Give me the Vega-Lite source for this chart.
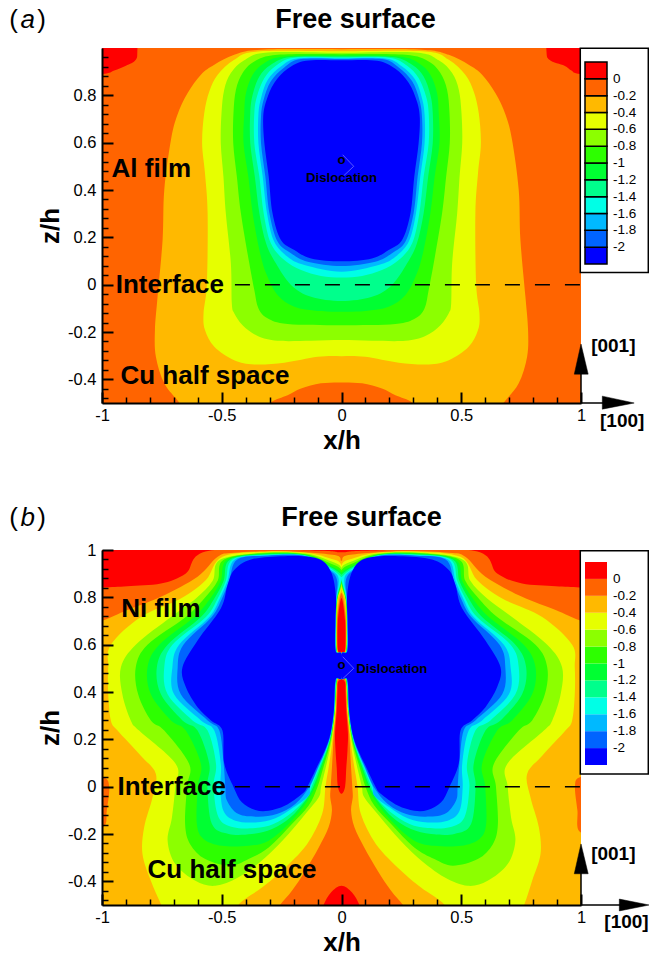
{"$schema":"https://vega.github.io/schema/vega-lite/v6.json","padding":{"left":9,"top":5,"right":0,"bottom":0},"spacing":49,"config":{"font":"Liberation Sans","view":{"stroke":null},"axis":{"grid":false,"domainColor":"black","tickColor":"black","labelColor":"black","labelFlush":false}},
"resolve":{"scale":{"fill":"independent"},"legend":{"fill":"independent"}},
"datasets":{"a":[
{"v":-0.1,"x":-2,"z":-2},{"v":-0.1,"x":2,"z":-2},{"v":-0.1,"x":2,"z":2},{"v":-0.1,"x":-2,"z":2},
{"v":0.1,"x":-1.2,"z":1.2},{"v":0.1,"x":-0.85,"z":1.2},{"v":0.1,"x":-0.852,"z":1.0},{"v":0.1,"x":-0.859,"z":0.95},{"v":0.1,"x":-0.9,"z":0.925},{"v":0.1,"x":-0.949,"z":0.905},{"v":0.1,"x":-1.0,"z":0.89},{"v":0.1,"x":-1.2,"z":0.88},
{"v":0.11,"x":1.2,"z":1.2},{"v":0.11,"x":0.85,"z":1.2},{"v":0.11,"x":0.855,"z":1.0},{"v":0.11,"x":0.868,"z":0.95},{"v":0.11,"x":0.931,"z":0.925},{"v":0.11,"x":0.96,"z":0.905},{"v":0.11,"x":1.0,"z":0.89},{"v":0.11,"x":1.2,"z":0.88},
{"v":-0.3,"x":0,"z":0.995},{"v":-0.3,"x":-0.336,"z":0.993},{"v":-0.3,"x":-0.448,"z":0.971},{"v":-0.3,"x":-0.531,"z":0.929},{"v":-0.3,"x":-0.587,"z":0.887},{"v":-0.3,"x":-0.643,"z":0.809},{"v":-0.3,"x":-0.685,"z":0.718},{"v":-0.3,"x":-0.712,"z":0.612},{"v":-0.3,"x":-0.74,"z":0.4},{"v":-0.3,"x":-0.747,"z":0.189},{"v":-0.3,"x":-0.768,"z":-0.051},{"v":-0.3,"x":-0.779,"z":-0.192},{"v":-0.3,"x":-0.775,"z":-0.305},{"v":-0.3,"x":-0.74,"z":-0.417},{"v":-0.3,"x":-0.678,"z":-0.498},{"v":-0.3,"x":-0.64,"z":-0.56},{"v":-0.3,"x":-0.33,"z":-0.56},{"v":-0.3,"x":-0.295,"z":-0.498},{"v":-0.3,"x":-0.225,"z":-0.467},{"v":-0.3,"x":-0.169,"z":-0.439},{"v":-0.3,"x":-0.086,"z":-0.417},{"v":-0.3,"x":0,"z":-0.413},{"v":-0.3,"x":0.086,"z":-0.417},{"v":-0.3,"x":0.169,"z":-0.439},{"v":-0.3,"x":0.225,"z":-0.467},{"v":-0.3,"x":0.295,"z":-0.498},{"v":-0.3,"x":0.33,"z":-0.56},{"v":-0.3,"x":0.64,"z":-0.56},{"v":-0.3,"x":0.678,"z":-0.498},{"v":-0.3,"x":0.74,"z":-0.417},{"v":-0.3,"x":0.775,"z":-0.305},{"v":-0.3,"x":0.779,"z":-0.192},{"v":-0.3,"x":0.768,"z":-0.051},{"v":-0.3,"x":0.747,"z":0.189},{"v":-0.3,"x":0.74,"z":0.4},{"v":-0.3,"x":0.712,"z":0.612},{"v":-0.3,"x":0.685,"z":0.718},{"v":-0.3,"x":0.643,"z":0.809},{"v":-0.3,"x":0.587,"z":0.887},{"v":-0.3,"x":0.531,"z":0.929},{"v":-0.3,"x":0.448,"z":0.971},{"v":-0.3,"x":0.336,"z":0.993},
{"v":-0.5,"x":0,"z":0.986},{"v":-0.5,"x":-0.35,"z":0.985},{"v":-0.5,"x":-0.448,"z":0.95},{"v":-0.5,"x":-0.517,"z":0.887},{"v":-0.5,"x":-0.552,"z":0.816},{"v":-0.5,"x":-0.573,"z":0.725},{"v":-0.5,"x":-0.582,"z":0.598},{"v":-0.5,"x":-0.57,"z":0.471},{"v":-0.5,"x":-0.559,"z":0.302},{"v":-0.5,"x":-0.562,"z":0.006},{"v":-0.5,"x":-0.576,"z":-0.121},{"v":-0.5,"x":-0.57,"z":-0.192},{"v":-0.5,"x":-0.531,"z":-0.262},{"v":-0.5,"x":-0.448,"z":-0.319},{"v":-0.5,"x":-0.364,"z":-0.337},{"v":-0.5,"x":-0.239,"z":-0.33},{"v":-0.5,"x":-0.1,"z":-0.305},{"v":-0.5,"x":0,"z":-0.302},{"v":-0.5,"x":0.1,"z":-0.305},{"v":-0.5,"x":0.239,"z":-0.33},{"v":-0.5,"x":0.364,"z":-0.337},{"v":-0.5,"x":0.448,"z":-0.319},{"v":-0.5,"x":0.531,"z":-0.262},{"v":-0.5,"x":0.57,"z":-0.192},{"v":-0.5,"x":0.576,"z":-0.121},{"v":-0.5,"x":0.562,"z":0.006},{"v":-0.5,"x":0.559,"z":0.302},{"v":-0.5,"x":0.57,"z":0.471},{"v":-0.5,"x":0.582,"z":0.598},{"v":-0.5,"x":0.573,"z":0.725},{"v":-0.5,"x":0.552,"z":0.816},{"v":-0.5,"x":0.517,"z":0.887},{"v":-0.5,"x":0.448,"z":0.95},{"v":-0.5,"x":0.35,"z":0.985},
{"v":-0.7,"x":0,"z":0.98},{"v":-0.7,"x":-0.309,"z":0.981},{"v":-0.7,"x":-0.406,"z":0.948},{"v":-0.7,"x":-0.462,"z":0.894},{"v":-0.7,"x":-0.49,"z":0.823},{"v":-0.7,"x":-0.501,"z":0.725},{"v":-0.7,"x":-0.504,"z":0.598},{"v":-0.7,"x":-0.493,"z":0.457},{"v":-0.7,"x":-0.483,"z":0.302},{"v":-0.7,"x":-0.462,"z":0.09},{"v":-0.7,"x":-0.458,"z":-0.079},{"v":-0.7,"x":-0.448,"z":-0.121},{"v":-0.7,"x":-0.413,"z":-0.171},{"v":-0.7,"x":-0.35,"z":-0.217},{"v":-0.7,"x":-0.267,"z":-0.237},{"v":-0.7,"x":-0.127,"z":-0.237},{"v":-0.7,"x":0,"z":-0.234},{"v":-0.7,"x":0.127,"z":-0.237},{"v":-0.7,"x":0.267,"z":-0.237},{"v":-0.7,"x":0.35,"z":-0.217},{"v":-0.7,"x":0.413,"z":-0.171},{"v":-0.7,"x":0.448,"z":-0.121},{"v":-0.7,"x":0.458,"z":-0.079},{"v":-0.7,"x":0.462,"z":0.09},{"v":-0.7,"x":0.483,"z":0.302},{"v":-0.7,"x":0.493,"z":0.457},{"v":-0.7,"x":0.504,"z":0.598},{"v":-0.7,"x":0.501,"z":0.725},{"v":-0.7,"x":0.49,"z":0.823},{"v":-0.7,"x":0.462,"z":0.894},{"v":-0.7,"x":0.406,"z":0.948},{"v":-0.7,"x":0.309,"z":0.981},
{"v":-0.9,"x":0,"z":0.974},{"v":-0.9,"x":-0.267,"z":0.971},{"v":-0.9,"x":-0.364,"z":0.943},{"v":-0.9,"x":-0.413,"z":0.894},{"v":-0.9,"x":-0.441,"z":0.823},{"v":-0.9,"x":-0.451,"z":0.725},{"v":-0.9,"x":-0.452,"z":0.598},{"v":-0.9,"x":-0.437,"z":0.457},{"v":-0.9,"x":-0.42,"z":0.302},{"v":-0.9,"x":-0.385,"z":0.09},{"v":-0.9,"x":-0.364,"z":-0.023},{"v":-0.9,"x":-0.347,"z":-0.1},{"v":-0.9,"x":-0.309,"z":-0.142},{"v":-0.9,"x":-0.225,"z":-0.166},{"v":-0.9,"x":0,"z":-0.171},{"v":-0.9,"x":0.225,"z":-0.166},{"v":-0.9,"x":0.309,"z":-0.142},{"v":-0.9,"x":0.347,"z":-0.1},{"v":-0.9,"x":0.364,"z":-0.023},{"v":-0.9,"x":0.385,"z":0.09},{"v":-0.9,"x":0.42,"z":0.302},{"v":-0.9,"x":0.437,"z":0.457},{"v":-0.9,"x":0.452,"z":0.598},{"v":-0.9,"x":0.451,"z":0.725},{"v":-0.9,"x":0.441,"z":0.823},{"v":-0.9,"x":0.413,"z":0.894},{"v":-0.9,"x":0.364,"z":0.943},{"v":-0.9,"x":0.267,"z":0.971},
{"v":-1.1,"x":0,"z":0.968},{"v":-1.1,"x":-0.239,"z":0.964},{"v":-1.1,"x":-0.323,"z":0.936},{"v":-1.1,"x":-0.371,"z":0.887},{"v":-1.1,"x":-0.399,"z":0.809},{"v":-1.1,"x":-0.406,"z":0.725},{"v":-1.1,"x":-0.409,"z":0.598},{"v":-1.1,"x":-0.389,"z":0.457},{"v":-1.1,"x":-0.371,"z":0.302},{"v":-1.1,"x":-0.343,"z":0.147},{"v":-1.1,"x":-0.315,"z":0.048},{"v":-1.1,"x":-0.267,"z":-0.044},{"v":-1.1,"x":-0.197,"z":-0.093},{"v":-1.1,"x":-0.1,"z":-0.111},{"v":-1.1,"x":0,"z":-0.114},{"v":-1.1,"x":0.1,"z":-0.111},{"v":-1.1,"x":0.197,"z":-0.093},{"v":-1.1,"x":0.267,"z":-0.044},{"v":-1.1,"x":0.315,"z":0.048},{"v":-1.1,"x":0.343,"z":0.147},{"v":-1.1,"x":0.371,"z":0.302},{"v":-1.1,"x":0.389,"z":0.457},{"v":-1.1,"x":0.409,"z":0.598},{"v":-1.1,"x":0.406,"z":0.725},{"v":-1.1,"x":0.399,"z":0.809},{"v":-1.1,"x":0.371,"z":0.887},{"v":-1.1,"x":0.323,"z":0.936},{"v":-1.1,"x":0.239,"z":0.964},
{"v":-1.3,"x":0,"z":0.964},{"v":-1.3,"x":-0.211,"z":0.962},{"v":-1.3,"x":-0.295,"z":0.929},{"v":-1.3,"x":-0.343,"z":0.88},{"v":-1.3,"x":-0.371,"z":0.802},{"v":-1.3,"x":-0.381,"z":0.725},{"v":-1.3,"x":-0.381,"z":0.598},{"v":-1.3,"x":-0.362,"z":0.457},{"v":-1.3,"x":-0.343,"z":0.302},{"v":-1.3,"x":-0.315,"z":0.175},{"v":-1.3,"x":-0.274,"z":0.09},{"v":-1.3,"x":-0.211,"z":-0.001},{"v":-1.3,"x":-0.127,"z":-0.051},{"v":-1.3,"x":0,"z":-0.069},{"v":-1.3,"x":0.127,"z":-0.051},{"v":-1.3,"x":0.211,"z":-0.001},{"v":-1.3,"x":0.274,"z":0.09},{"v":-1.3,"x":0.315,"z":0.175},{"v":-1.3,"x":0.343,"z":0.302},{"v":-1.3,"x":0.362,"z":0.457},{"v":-1.3,"x":0.381,"z":0.598},{"v":-1.3,"x":0.381,"z":0.725},{"v":-1.3,"x":0.371,"z":0.802},{"v":-1.3,"x":0.343,"z":0.88},{"v":-1.3,"x":0.295,"z":0.929},{"v":-1.3,"x":0.211,"z":0.962},
{"v":-1.5,"x":0,"z":0.96},{"v":-1.5,"x":-0.197,"z":0.959},{"v":-1.5,"x":-0.274,"z":0.925},{"v":-1.5,"x":-0.322,"z":0.873},{"v":-1.5,"x":-0.353,"z":0.795},{"v":-1.5,"x":-0.364,"z":0.725},{"v":-1.5,"x":-0.364,"z":0.598},{"v":-1.5,"x":-0.343,"z":0.457},{"v":-1.5,"x":-0.325,"z":0.302},{"v":-1.5,"x":-0.295,"z":0.175},{"v":-1.5,"x":-0.239,"z":0.104},{"v":-1.5,"x":-0.169,"z":0.062},{"v":-1.5,"x":-0.086,"z":0.037},{"v":-1.5,"x":0,"z":0.03},{"v":-1.5,"x":0.086,"z":0.037},{"v":-1.5,"x":0.169,"z":0.062},{"v":-1.5,"x":0.239,"z":0.104},{"v":-1.5,"x":0.295,"z":0.175},{"v":-1.5,"x":0.325,"z":0.302},{"v":-1.5,"x":0.343,"z":0.457},{"v":-1.5,"x":0.364,"z":0.598},{"v":-1.5,"x":0.364,"z":0.725},{"v":-1.5,"x":0.353,"z":0.795},{"v":-1.5,"x":0.322,"z":0.873},{"v":-1.5,"x":0.274,"z":0.925},{"v":-1.5,"x":0.197,"z":0.959},
{"v":-1.7,"x":0,"z":0.957},{"v":-1.7,"x":-0.183,"z":0.956},{"v":-1.7,"x":-0.253,"z":0.922},{"v":-1.7,"x":-0.308,"z":0.866},{"v":-1.7,"x":-0.336,"z":0.788},{"v":-1.7,"x":-0.347,"z":0.718},{"v":-1.7,"x":-0.347,"z":0.598},{"v":-1.7,"x":-0.329,"z":0.457},{"v":-1.7,"x":-0.311,"z":0.302},{"v":-1.7,"x":-0.281,"z":0.182},{"v":-1.7,"x":-0.225,"z":0.118},{"v":-1.7,"x":-0.155,"z":0.083},{"v":-1.7,"x":0,"z":0.055},{"v":-1.7,"x":0.155,"z":0.083},{"v":-1.7,"x":0.225,"z":0.118},{"v":-1.7,"x":0.281,"z":0.182},{"v":-1.7,"x":0.311,"z":0.302},{"v":-1.7,"x":0.329,"z":0.457},{"v":-1.7,"x":0.347,"z":0.598},{"v":-1.7,"x":0.347,"z":0.718},{"v":-1.7,"x":0.336,"z":0.788},{"v":-1.7,"x":0.308,"z":0.866},{"v":-1.7,"x":0.253,"z":0.922},{"v":-1.7,"x":0.183,"z":0.956},
{"v":-1.9,"x":0,"z":0.954},{"v":-1.9,"x":-0.169,"z":0.953},{"v":-1.9,"x":-0.239,"z":0.918},{"v":-1.9,"x":-0.295,"z":0.859},{"v":-1.9,"x":-0.325,"z":0.781},{"v":-1.9,"x":-0.336,"z":0.711},{"v":-1.9,"x":-0.336,"z":0.598},{"v":-1.9,"x":-0.318,"z":0.457},{"v":-1.9,"x":-0.301,"z":0.302},{"v":-1.9,"x":-0.267,"z":0.182},{"v":-1.9,"x":-0.211,"z":0.133},{"v":-1.9,"x":-0.141,"z":0.097},{"v":-1.9,"x":0,"z":0.079},{"v":-1.9,"x":0.141,"z":0.097},{"v":-1.9,"x":0.211,"z":0.133},{"v":-1.9,"x":0.267,"z":0.182},{"v":-1.9,"x":0.301,"z":0.302},{"v":-1.9,"x":0.318,"z":0.457},{"v":-1.9,"x":0.336,"z":0.598},{"v":-1.9,"x":0.336,"z":0.711},{"v":-1.9,"x":0.325,"z":0.781},{"v":-1.9,"x":0.295,"z":0.859},{"v":-1.9,"x":0.239,"z":0.918},{"v":-1.9,"x":0.169,"z":0.953},
{"v":-2.1,"x":0,"z":0.948},{"v":-2.1,"x":-0.148,"z":0.946},{"v":-2.1,"x":-0.225,"z":0.912},{"v":-2.1,"x":-0.281,"z":0.852},{"v":-2.1,"x":-0.315,"z":0.774},{"v":-2.1,"x":-0.327,"z":0.704},{"v":-2.1,"x":-0.322,"z":0.598},{"v":-2.1,"x":-0.304,"z":0.457},{"v":-2.1,"x":-0.288,"z":0.302},{"v":-2.1,"x":-0.253,"z":0.189},{"v":-2.1,"x":-0.197,"z":0.147},{"v":-2.1,"x":-0.127,"z":0.111},{"v":-2.1,"x":0,"z":0.099},{"v":-2.1,"x":0.127,"z":0.111},{"v":-2.1,"x":0.197,"z":0.147},{"v":-2.1,"x":0.253,"z":0.189},{"v":-2.1,"x":0.288,"z":0.302},{"v":-2.1,"x":0.304,"z":0.457},{"v":-2.1,"x":0.322,"z":0.598},{"v":-2.1,"x":0.327,"z":0.704},{"v":-2.1,"x":0.315,"z":0.774},{"v":-2.1,"x":0.281,"z":0.852},{"v":-2.1,"x":0.225,"z":0.912},{"v":-2.1,"x":0.148,"z":0.946}
],
"b":[
{"v":-0.3,"x":-2,"z":-2},{"v":-0.3,"x":2,"z":-2},{"v":-0.3,"x":2,"z":2},{"v":-0.3,"x":-2,"z":2},
{"v":-0.1,"x":-1.1,"z":1.2},{"v":-0.1,"x":1.1,"z":1.2},{"v":-0.1,"x":1.1,"z":0.68},{"v":-0.1,"x":0.994,"z":0.703},{"v":-0.1,"x":0.894,"z":0.746},{"v":-0.1,"x":0.754,"z":0.802},{"v":-0.1,"x":0.601,"z":0.887},{"v":-0.1,"x":0.517,"z":0.971},{"v":-0.1,"x":0.448,"z":0.988},{"v":-0.1,"x":0.239,"z":0.995},{"v":-0.1,"x":0.03,"z":0.979},{"v":-0.1,"x":0,"z":0.955},{"v":-0.1,"x":-0.03,"z":0.979},{"v":-0.1,"x":-0.239,"z":0.995},{"v":-0.1,"x":-0.448,"z":0.988},{"v":-0.1,"x":-0.517,"z":0.971},{"v":-0.1,"x":-0.601,"z":0.887},{"v":-0.1,"x":-0.754,"z":0.802},{"v":-0.1,"x":-0.894,"z":0.746},{"v":-0.1,"x":-0.994,"z":0.703},{"v":-0.1,"x":-1.1,"z":0.68},
{"v":-0.11,"x":-1.1,"z":0.05},{"v":-0.11,"x":-0.995,"z":0.04},{"v":-0.11,"x":-0.97,"z":0},{"v":-0.11,"x":-0.98,"z":-0.1},{"v":-0.11,"x":-0.995,"z":-0.17},{"v":-0.11,"x":-1.1,"z":-0.18},
{"v":-0.12,"x":1.1,"z":0.05},{"v":-0.12,"x":0.995,"z":0.04},{"v":-0.12,"x":0.975,"z":0},{"v":-0.12,"x":0.985,"z":-0.1},{"v":-0.12,"x":0.995,"z":-0.19},{"v":-0.12,"x":1.1,"z":-0.2},
{"v":-0.13,"x":0,"z":0.818},{"v":-0.13,"x":0.019,"z":0.7},{"v":-0.13,"x":0.017,"z":0.575},{"v":-0.13,"x":0,"z":0.56},{"v":-0.13,"x":0,"z":0.46},{"v":-0.13,"x":0.017,"z":0.45},{"v":-0.13,"x":0.023,"z":0.322},{"v":-0.13,"x":0.032,"z":0.225},{"v":-0.13,"x":0.036,"z":0.153},{"v":-0.13,"x":0.04,"z":0.08},{"v":-0.13,"x":0.045,"z":0},{"v":-0.13,"x":0.047,"z":-0.045},{"v":-0.13,"x":0.04,"z":-0.102},{"v":-0.13,"x":0.054,"z":-0.172},{"v":-0.13,"x":0.095,"z":-0.257},{"v":-0.13,"x":0.151,"z":-0.355},{"v":-0.13,"x":0.207,"z":-0.44},{"v":-0.13,"x":0.256,"z":-0.499},{"v":-0.13,"x":0.3,"z":-0.56},{"v":-0.13,"x":-0.3,"z":-0.56},{"v":-0.13,"x":-0.256,"z":-0.499},{"v":-0.13,"x":-0.207,"z":-0.44},{"v":-0.13,"x":-0.151,"z":-0.355},{"v":-0.13,"x":-0.095,"z":-0.257},{"v":-0.13,"x":-0.054,"z":-0.172},{"v":-0.13,"x":-0.04,"z":-0.102},{"v":-0.13,"x":-0.047,"z":-0.045},{"v":-0.13,"x":-0.045,"z":0},{"v":-0.13,"x":-0.04,"z":0.08},{"v":-0.13,"x":-0.036,"z":0.153},{"v":-0.13,"x":-0.032,"z":0.225},{"v":-0.13,"x":-0.023,"z":0.322},{"v":-0.13,"x":-0.017,"z":0.45},{"v":-0.13,"x":0,"z":0.46},{"v":-0.13,"x":0,"z":0.56},{"v":-0.13,"x":-0.017,"z":0.575},{"v":-0.13,"x":-0.019,"z":0.7},
{"v":0.1,"x":-1.1,"z":1.2},{"v":0.1,"x":1.1,"z":1.2},{"v":0.1,"x":1.1,"z":0.84},{"v":0.1,"x":0.994,"z":0.842},{"v":0.1,"x":0.894,"z":0.847},{"v":0.1,"x":0.754,"z":0.858},{"v":0.1,"x":0.65,"z":0.901},{"v":0.1,"x":0.552,"z":0.997},{"v":0.1,"x":0.1,"z":0.997},{"v":0.1,"x":0,"z":0.99},{"v":0.1,"x":-0.1,"z":0.997},{"v":0.1,"x":-0.552,"z":0.997},{"v":0.1,"x":-0.65,"z":0.901},{"v":0.1,"x":-0.754,"z":0.858},{"v":0.1,"x":-0.894,"z":0.847},{"v":0.1,"x":-0.994,"z":0.842},{"v":0.1,"x":-1.1,"z":0.84},
{"v":0.11,"x":0,"z":0.797},{"v":0.11,"x":0.015,"z":0.7},{"v":0.11,"x":0.015,"z":0.58},{"v":0.11,"x":0,"z":0.57},{"v":0.11,"x":-0.015,"z":0.58},{"v":0.11,"x":-0.015,"z":0.7},
{"v":0.12,"x":0,"z":0.455},{"v":0.12,"x":0.015,"z":0.44},{"v":0.12,"x":0.017,"z":0.4},{"v":0.12,"x":0.02,"z":0.322},{"v":0.12,"x":0.027,"z":0.225},{"v":0.12,"x":0.025,"z":0.153},{"v":0.12,"x":0.02,"z":0.08},{"v":0.12,"x":0.015,"z":0},{"v":0.12,"x":0,"z":-0.03},{"v":0.12,"x":-0.015,"z":0},{"v":0.12,"x":-0.02,"z":0.08},{"v":0.12,"x":-0.025,"z":0.153},{"v":0.12,"x":-0.027,"z":0.225},{"v":0.12,"x":-0.02,"z":0.322},{"v":0.12,"x":-0.017,"z":0.4},{"v":0.12,"x":-0.015,"z":0.44},
{"v":0.13,"x":0,"z":-0.419},{"v":0.13,"x":-0.044,"z":-0.447},{"v":0.13,"x":-0.075,"z":-0.5},{"v":0.13,"x":-0.09,"z":-0.56},{"v":0.13,"x":0.09,"z":-0.56},{"v":0.13,"x":0.075,"z":-0.5},{"v":0.13,"x":0.044,"z":-0.447},
{"v":-0.5,"x":0,"z":0.936},{"v":-0.5,"x":-0.05,"z":0.965},{"v":-0.5,"x":-0.15,"z":0.988},{"v":-0.5,"x":-0.309,"z":0.993},{"v":-0.5,"x":-0.497,"z":0.971},{"v":-0.5,"x":-0.566,"z":0.873},{"v":-0.5,"x":-0.671,"z":0.795},{"v":-0.5,"x":-0.838,"z":0.717},{"v":-0.5,"x":-0.963,"z":0.6},{"v":-0.5,"x":-0.974,"z":0.505},{"v":-0.5,"x":-0.974,"z":0.39},{"v":-0.5,"x":-0.963,"z":0.28},{"v":-0.5,"x":-0.935,"z":0.237},{"v":-0.5,"x":-0.838,"z":0.131},{"v":-0.5,"x":-0.775,"z":0.054},{"v":-0.5,"x":-0.789,"z":-0.045},{"v":-0.5,"x":-0.824,"z":-0.172},{"v":-0.5,"x":-0.831,"z":-0.285},{"v":-0.5,"x":-0.796,"z":-0.398},{"v":-0.5,"x":-0.754,"z":-0.496},{"v":-0.5,"x":-0.72,"z":-0.56},{"v":-0.5,"x":-0.43,"z":-0.56},{"v":-0.5,"x":-0.43,"z":-0.499},{"v":-0.5,"x":-0.332,"z":-0.426},{"v":-0.5,"x":-0.249,"z":-0.355},{"v":-0.5,"x":-0.144,"z":-0.243},{"v":-0.5,"x":-0.081,"z":-0.116},{"v":-0.5,"x":-0.067,"z":0},{"v":-0.5,"x":-0.054,"z":0.08},{"v":-0.5,"x":-0.043,"z":0.153},{"v":-0.5,"x":-0.035,"z":0.225},{"v":-0.5,"x":-0.025,"z":0.322},{"v":-0.5,"x":-0.018,"z":0.45},{"v":-0.5,"x":0,"z":0.46},{"v":-0.5,"x":0,"z":0.56},{"v":-0.5,"x":-0.018,"z":0.575},{"v":-0.5,"x":-0.02,"z":0.7},{"v":-0.5,"x":-0.015,"z":0.79},{"v":-0.5,"x":0,"z":0.838},
{"v":-0.51,"x":0,"z":0.936},{"v":-0.51,"x":0.05,"z":0.965},{"v":-0.51,"x":0.15,"z":0.988},{"v":-0.51,"x":0.309,"z":0.993},{"v":-0.51,"x":0.497,"z":0.971},{"v":-0.51,"x":0.566,"z":0.873},{"v":-0.51,"x":0.671,"z":0.795},{"v":-0.51,"x":0.838,"z":0.717},{"v":-0.51,"x":0.963,"z":0.6},{"v":-0.51,"x":0.974,"z":0.505},{"v":-0.51,"x":0.974,"z":0.39},{"v":-0.51,"x":0.963,"z":0.28},{"v":-0.51,"x":0.935,"z":0.237},{"v":-0.51,"x":0.838,"z":0.131},{"v":-0.51,"x":0.775,"z":0.054},{"v":-0.51,"x":0.789,"z":-0.045},{"v":-0.51,"x":0.824,"z":-0.172},{"v":-0.51,"x":0.831,"z":-0.285},{"v":-0.51,"x":0.796,"z":-0.398},{"v":-0.51,"x":0.764,"z":-0.496},{"v":-0.51,"x":0.73,"z":-0.56},{"v":-0.51,"x":0.43,"z":-0.56},{"v":-0.51,"x":0.43,"z":-0.499},{"v":-0.51,"x":0.332,"z":-0.426},{"v":-0.51,"x":0.249,"z":-0.355},{"v":-0.51,"x":0.144,"z":-0.243},{"v":-0.51,"x":0.081,"z":-0.116},{"v":-0.51,"x":0.067,"z":0},{"v":-0.51,"x":0.054,"z":0.08},{"v":-0.51,"x":0.043,"z":0.153},{"v":-0.51,"x":0.035,"z":0.225},{"v":-0.51,"x":0.025,"z":0.322},{"v":-0.51,"x":0.018,"z":0.45},{"v":-0.51,"x":0,"z":0.46},{"v":-0.51,"x":0,"z":0.56},{"v":-0.51,"x":0.018,"z":0.575},{"v":-0.51,"x":0.02,"z":0.7},{"v":-0.51,"x":0.015,"z":0.79},{"v":-0.51,"x":0,"z":0.838},
{"v":-0.7,"x":0,"z":0.925},{"v":-0.7,"x":-0.05,"z":0.955},{"v":-0.7,"x":-0.15,"z":0.985},{"v":-0.7,"x":-0.309,"z":0.99},{"v":-0.7,"x":-0.505,"z":0.96},{"v":-0.7,"x":-0.538,"z":0.87},{"v":-0.7,"x":-0.608,"z":0.795},{"v":-0.7,"x":-0.712,"z":0.717},{"v":-0.7,"x":-0.859,"z":0.6},{"v":-0.7,"x":-0.921,"z":0.505},{"v":-0.7,"x":-0.915,"z":0.39},{"v":-0.7,"x":-0.88,"z":0.28},{"v":-0.7,"x":-0.845,"z":0.237},{"v":-0.7,"x":-0.692,"z":0.096},{"v":-0.7,"x":-0.694,"z":0},{"v":-0.7,"x":-0.708,"z":-0.13},{"v":-0.7,"x":-0.726,"z":-0.228},{"v":-0.7,"x":-0.694,"z":-0.327},{"v":-0.7,"x":-0.61,"z":-0.398},{"v":-0.7,"x":-0.527,"z":-0.419},{"v":-0.7,"x":-0.43,"z":-0.383},{"v":-0.7,"x":-0.318,"z":-0.299},{"v":-0.7,"x":-0.221,"z":-0.2},{"v":-0.7,"x":-0.151,"z":-0.116},{"v":-0.7,"x":-0.095,"z":-0.045},{"v":-0.7,"x":-0.085,"z":0},{"v":-0.7,"x":-0.066,"z":0.08},{"v":-0.7,"x":-0.05,"z":0.153},{"v":-0.7,"x":-0.037,"z":0.225},{"v":-0.7,"x":-0.027,"z":0.322},{"v":-0.7,"x":-0.018,"z":0.45},{"v":-0.7,"x":0,"z":0.46},{"v":-0.7,"x":0,"z":0.56},{"v":-0.7,"x":-0.019,"z":0.575},{"v":-0.7,"x":-0.021,"z":0.7},{"v":-0.7,"x":-0.017,"z":0.79},{"v":-0.7,"x":0,"z":0.85},
{"v":-0.71,"x":0,"z":0.925},{"v":-0.71,"x":0.05,"z":0.955},{"v":-0.71,"x":0.15,"z":0.985},{"v":-0.71,"x":0.309,"z":0.99},{"v":-0.71,"x":0.505,"z":0.96},{"v":-0.71,"x":0.538,"z":0.87},{"v":-0.71,"x":0.608,"z":0.795},{"v":-0.71,"x":0.712,"z":0.717},{"v":-0.71,"x":0.859,"z":0.6},{"v":-0.71,"x":0.921,"z":0.505},{"v":-0.71,"x":0.915,"z":0.39},{"v":-0.71,"x":0.88,"z":0.28},{"v":-0.71,"x":0.845,"z":0.237},{"v":-0.71,"x":0.692,"z":0.096},{"v":-0.71,"x":0.694,"z":0},{"v":-0.71,"x":0.708,"z":-0.13},{"v":-0.71,"x":0.726,"z":-0.228},{"v":-0.71,"x":0.694,"z":-0.327},{"v":-0.71,"x":0.61,"z":-0.398},{"v":-0.71,"x":0.527,"z":-0.419},{"v":-0.71,"x":0.43,"z":-0.383},{"v":-0.71,"x":0.318,"z":-0.299},{"v":-0.71,"x":0.221,"z":-0.2},{"v":-0.71,"x":0.151,"z":-0.116},{"v":-0.71,"x":0.095,"z":-0.045},{"v":-0.71,"x":0.085,"z":0},{"v":-0.71,"x":0.066,"z":0.08},{"v":-0.71,"x":0.05,"z":0.153},{"v":-0.71,"x":0.037,"z":0.225},{"v":-0.71,"x":0.027,"z":0.322},{"v":-0.71,"x":0.018,"z":0.45},{"v":-0.71,"x":0,"z":0.46},{"v":-0.71,"x":0,"z":0.56},{"v":-0.71,"x":0.019,"z":0.575},{"v":-0.71,"x":0.021,"z":0.7},{"v":-0.71,"x":0.017,"z":0.79},{"v":-0.71,"x":0,"z":0.85},
{"v":-0.9,"x":0,"z":0.915},{"v":-0.9,"x":-0.05,"z":0.945},{"v":-0.9,"x":-0.15,"z":0.982},{"v":-0.9,"x":-0.309,"z":0.987},{"v":-0.9,"x":-0.49,"z":0.96},{"v":-0.9,"x":-0.517,"z":0.87},{"v":-0.9,"x":-0.573,"z":0.795},{"v":-0.9,"x":-0.65,"z":0.717},{"v":-0.9,"x":-0.81,"z":0.6},{"v":-0.9,"x":-0.859,"z":0.505},{"v":-0.9,"x":-0.849,"z":0.39},{"v":-0.9,"x":-0.796,"z":0.28},{"v":-0.9,"x":-0.74,"z":0.237},{"v":-0.9,"x":-0.636,"z":0.096},{"v":-0.9,"x":-0.645,"z":0},{"v":-0.9,"x":-0.653,"z":-0.158},{"v":-0.9,"x":-0.632,"z":-0.243},{"v":-0.9,"x":-0.569,"z":-0.306},{"v":-0.9,"x":-0.465,"z":-0.334},{"v":-0.9,"x":-0.388,"z":-0.306},{"v":-0.9,"x":-0.304,"z":-0.257},{"v":-0.9,"x":-0.207,"z":-0.158},{"v":-0.9,"x":-0.137,"z":-0.08},{"v":-0.9,"x":-0.1,"z":0},{"v":-0.9,"x":-0.076,"z":0.08},{"v":-0.9,"x":-0.055,"z":0.153},{"v":-0.9,"x":-0.04,"z":0.225},{"v":-0.9,"x":-0.028,"z":0.322},{"v":-0.9,"x":-0.019,"z":0.45},{"v":-0.9,"x":0,"z":0.46},{"v":-0.9,"x":0,"z":0.56},{"v":-0.9,"x":-0.02,"z":0.575},{"v":-0.9,"x":-0.022,"z":0.7},{"v":-0.9,"x":-0.018,"z":0.79},{"v":-0.9,"x":0,"z":0.86},
{"v":-0.91,"x":0,"z":0.915},{"v":-0.91,"x":0.05,"z":0.945},{"v":-0.91,"x":0.15,"z":0.982},{"v":-0.91,"x":0.309,"z":0.987},{"v":-0.91,"x":0.49,"z":0.96},{"v":-0.91,"x":0.517,"z":0.87},{"v":-0.91,"x":0.573,"z":0.795},{"v":-0.91,"x":0.65,"z":0.717},{"v":-0.91,"x":0.81,"z":0.6},{"v":-0.91,"x":0.859,"z":0.505},{"v":-0.91,"x":0.849,"z":0.39},{"v":-0.91,"x":0.796,"z":0.28},{"v":-0.91,"x":0.74,"z":0.237},{"v":-0.91,"x":0.636,"z":0.096},{"v":-0.91,"x":0.645,"z":0},{"v":-0.91,"x":0.653,"z":-0.158},{"v":-0.91,"x":0.632,"z":-0.243},{"v":-0.91,"x":0.569,"z":-0.306},{"v":-0.91,"x":0.465,"z":-0.334},{"v":-0.91,"x":0.388,"z":-0.306},{"v":-0.91,"x":0.304,"z":-0.257},{"v":-0.91,"x":0.207,"z":-0.158},{"v":-0.91,"x":0.137,"z":-0.08},{"v":-0.91,"x":0.1,"z":0},{"v":-0.91,"x":0.076,"z":0.08},{"v":-0.91,"x":0.055,"z":0.153},{"v":-0.91,"x":0.04,"z":0.225},{"v":-0.91,"x":0.028,"z":0.322},{"v":-0.91,"x":0.019,"z":0.45},{"v":-0.91,"x":0,"z":0.46},{"v":-0.91,"x":0,"z":0.56},{"v":-0.91,"x":0.02,"z":0.575},{"v":-0.91,"x":0.022,"z":0.7},{"v":-0.91,"x":0.018,"z":0.79},{"v":-0.91,"x":0,"z":0.86},
{"v":-1.1,"x":0,"z":0.905},{"v":-1.1,"x":-0.05,"z":0.935},{"v":-1.1,"x":-0.15,"z":0.98},{"v":-1.1,"x":-0.309,"z":0.985},{"v":-1.1,"x":-0.475,"z":0.96},{"v":-1.1,"x":-0.504,"z":0.87},{"v":-1.1,"x":-0.548,"z":0.795},{"v":-1.1,"x":-0.615,"z":0.717},{"v":-1.1,"x":-0.761,"z":0.6},{"v":-1.1,"x":-0.81,"z":0.505},{"v":-1.1,"x":-0.796,"z":0.39},{"v":-1.1,"x":-0.712,"z":0.28},{"v":-1.1,"x":-0.65,"z":0.237},{"v":-1.1,"x":-0.587,"z":0.096},{"v":-1.1,"x":-0.6,"z":0},{"v":-1.1,"x":-0.604,"z":-0.158},{"v":-1.1,"x":-0.576,"z":-0.221},{"v":-1.1,"x":-0.5,"z":-0.25},{"v":-1.1,"x":-0.388,"z":-0.25},{"v":-1.1,"x":-0.304,"z":-0.228},{"v":-1.1,"x":-0.221,"z":-0.158},{"v":-1.1,"x":-0.151,"z":-0.073},{"v":-1.1,"x":-0.11,"z":0},{"v":-1.1,"x":-0.083,"z":0.08},{"v":-1.1,"x":-0.059,"z":0.153},{"v":-1.1,"x":-0.041,"z":0.225},{"v":-1.1,"x":-0.029,"z":0.322},{"v":-1.1,"x":-0.02,"z":0.45},{"v":-1.1,"x":0,"z":0.46},{"v":-1.1,"x":0,"z":0.56},{"v":-1.1,"x":-0.021,"z":0.575},{"v":-1.1,"x":-0.023,"z":0.7},{"v":-1.1,"x":-0.019,"z":0.79},{"v":-1.1,"x":0,"z":0.865},
{"v":-1.11,"x":0,"z":0.905},{"v":-1.11,"x":0.05,"z":0.935},{"v":-1.11,"x":0.15,"z":0.98},{"v":-1.11,"x":0.309,"z":0.985},{"v":-1.11,"x":0.475,"z":0.96},{"v":-1.11,"x":0.504,"z":0.87},{"v":-1.11,"x":0.548,"z":0.795},{"v":-1.11,"x":0.615,"z":0.717},{"v":-1.11,"x":0.761,"z":0.6},{"v":-1.11,"x":0.81,"z":0.505},{"v":-1.11,"x":0.796,"z":0.39},{"v":-1.11,"x":0.712,"z":0.28},{"v":-1.11,"x":0.65,"z":0.237},{"v":-1.11,"x":0.587,"z":0.096},{"v":-1.11,"x":0.6,"z":0},{"v":-1.11,"x":0.604,"z":-0.158},{"v":-1.11,"x":0.576,"z":-0.221},{"v":-1.11,"x":0.5,"z":-0.25},{"v":-1.11,"x":0.388,"z":-0.25},{"v":-1.11,"x":0.304,"z":-0.228},{"v":-1.11,"x":0.221,"z":-0.158},{"v":-1.11,"x":0.151,"z":-0.073},{"v":-1.11,"x":0.11,"z":0},{"v":-1.11,"x":0.083,"z":0.08},{"v":-1.11,"x":0.059,"z":0.153},{"v":-1.11,"x":0.041,"z":0.225},{"v":-1.11,"x":0.029,"z":0.322},{"v":-1.11,"x":0.02,"z":0.45},{"v":-1.11,"x":0,"z":0.46},{"v":-1.11,"x":0,"z":0.56},{"v":-1.11,"x":0.021,"z":0.575},{"v":-1.11,"x":0.023,"z":0.7},{"v":-1.11,"x":0.019,"z":0.79},{"v":-1.11,"x":0,"z":0.865},
{"v":-1.3,"x":0,"z":0.895},{"v":-1.3,"x":-0.05,"z":0.93},{"v":-1.3,"x":-0.15,"z":0.978},{"v":-1.3,"x":-0.309,"z":0.982},{"v":-1.3,"x":-0.465,"z":0.96},{"v":-1.3,"x":-0.492,"z":0.87},{"v":-1.3,"x":-0.531,"z":0.795},{"v":-1.3,"x":-0.587,"z":0.717},{"v":-1.3,"x":-0.726,"z":0.6},{"v":-1.3,"x":-0.771,"z":0.505},{"v":-1.3,"x":-0.754,"z":0.39},{"v":-1.3,"x":-0.664,"z":0.28},{"v":-1.3,"x":-0.601,"z":0.237},{"v":-1.3,"x":-0.552,"z":0.096},{"v":-1.3,"x":-0.56,"z":0},{"v":-1.3,"x":-0.541,"z":-0.158},{"v":-1.3,"x":-0.471,"z":-0.2},{"v":-1.3,"x":-0.374,"z":-0.2},{"v":-1.3,"x":-0.29,"z":-0.179},{"v":-1.3,"x":-0.214,"z":-0.13},{"v":-1.3,"x":-0.151,"z":-0.059},{"v":-1.3,"x":-0.118,"z":0},{"v":-1.3,"x":-0.088,"z":0.08},{"v":-1.3,"x":-0.061,"z":0.153},{"v":-1.3,"x":-0.042,"z":0.225},{"v":-1.3,"x":-0.03,"z":0.322},{"v":-1.3,"x":-0.021,"z":0.45},{"v":-1.3,"x":0,"z":0.46},{"v":-1.3,"x":0,"z":0.56},{"v":-1.3,"x":-0.022,"z":0.575},{"v":-1.3,"x":-0.0235,"z":0.7},{"v":-1.3,"x":-0.02,"z":0.79},{"v":-1.3,"x":0,"z":0.87},
{"v":-1.31,"x":0,"z":0.895},{"v":-1.31,"x":0.05,"z":0.93},{"v":-1.31,"x":0.15,"z":0.978},{"v":-1.31,"x":0.309,"z":0.982},{"v":-1.31,"x":0.465,"z":0.96},{"v":-1.31,"x":0.492,"z":0.87},{"v":-1.31,"x":0.531,"z":0.795},{"v":-1.31,"x":0.587,"z":0.717},{"v":-1.31,"x":0.726,"z":0.6},{"v":-1.31,"x":0.771,"z":0.505},{"v":-1.31,"x":0.754,"z":0.39},{"v":-1.31,"x":0.664,"z":0.28},{"v":-1.31,"x":0.601,"z":0.237},{"v":-1.31,"x":0.552,"z":0.096},{"v":-1.31,"x":0.56,"z":0},{"v":-1.31,"x":0.541,"z":-0.158},{"v":-1.31,"x":0.471,"z":-0.2},{"v":-1.31,"x":0.374,"z":-0.2},{"v":-1.31,"x":0.29,"z":-0.179},{"v":-1.31,"x":0.214,"z":-0.13},{"v":-1.31,"x":0.151,"z":-0.059},{"v":-1.31,"x":0.118,"z":0},{"v":-1.31,"x":0.088,"z":0.08},{"v":-1.31,"x":0.061,"z":0.153},{"v":-1.31,"x":0.042,"z":0.225},{"v":-1.31,"x":0.03,"z":0.322},{"v":-1.31,"x":0.021,"z":0.45},{"v":-1.31,"x":0,"z":0.46},{"v":-1.31,"x":0,"z":0.56},{"v":-1.31,"x":0.022,"z":0.575},{"v":-1.31,"x":0.0235,"z":0.7},{"v":-1.31,"x":0.02,"z":0.79},{"v":-1.31,"x":0,"z":0.87},
{"v":-1.5,"x":0,"z":0.885},{"v":-1.5,"x":-0.05,"z":0.925},{"v":-1.5,"x":-0.15,"z":0.976},{"v":-1.5,"x":-0.309,"z":0.98},{"v":-1.5,"x":-0.455,"z":0.96},{"v":-1.5,"x":-0.483,"z":0.87},{"v":-1.5,"x":-0.517,"z":0.795},{"v":-1.5,"x":-0.566,"z":0.717},{"v":-1.5,"x":-0.706,"z":0.6},{"v":-1.5,"x":-0.74,"z":0.505},{"v":-1.5,"x":-0.726,"z":0.39},{"v":-1.5,"x":-0.622,"z":0.28},{"v":-1.5,"x":-0.559,"z":0.237},{"v":-1.5,"x":-0.524,"z":0.096},{"v":-1.5,"x":-0.534,"z":0},{"v":-1.5,"x":-0.513,"z":-0.13},{"v":-1.5,"x":-0.451,"z":-0.172},{"v":-1.5,"x":-0.36,"z":-0.175},{"v":-1.5,"x":-0.284,"z":-0.158},{"v":-1.5,"x":-0.207,"z":-0.109},{"v":-1.5,"x":-0.144,"z":-0.045},{"v":-1.5,"x":-0.125,"z":0},{"v":-1.5,"x":-0.093,"z":0.08},{"v":-1.5,"x":-0.064,"z":0.153},{"v":-1.5,"x":-0.044,"z":0.225},{"v":-1.5,"x":-0.03,"z":0.322},{"v":-1.5,"x":-0.022,"z":0.45},{"v":-1.5,"x":0,"z":0.46},{"v":-1.5,"x":0,"z":0.56},{"v":-1.5,"x":-0.022,"z":0.575},{"v":-1.5,"x":-0.024,"z":0.7},{"v":-1.5,"x":-0.021,"z":0.79},{"v":-1.5,"x":0,"z":0.875},
{"v":-1.51,"x":0,"z":0.885},{"v":-1.51,"x":0.05,"z":0.925},{"v":-1.51,"x":0.15,"z":0.976},{"v":-1.51,"x":0.309,"z":0.98},{"v":-1.51,"x":0.455,"z":0.96},{"v":-1.51,"x":0.483,"z":0.87},{"v":-1.51,"x":0.517,"z":0.795},{"v":-1.51,"x":0.566,"z":0.717},{"v":-1.51,"x":0.706,"z":0.6},{"v":-1.51,"x":0.74,"z":0.505},{"v":-1.51,"x":0.726,"z":0.39},{"v":-1.51,"x":0.622,"z":0.28},{"v":-1.51,"x":0.559,"z":0.237},{"v":-1.51,"x":0.524,"z":0.096},{"v":-1.51,"x":0.534,"z":0},{"v":-1.51,"x":0.513,"z":-0.13},{"v":-1.51,"x":0.451,"z":-0.172},{"v":-1.51,"x":0.36,"z":-0.175},{"v":-1.51,"x":0.284,"z":-0.158},{"v":-1.51,"x":0.207,"z":-0.109},{"v":-1.51,"x":0.144,"z":-0.045},{"v":-1.51,"x":0.125,"z":0},{"v":-1.51,"x":0.093,"z":0.08},{"v":-1.51,"x":0.064,"z":0.153},{"v":-1.51,"x":0.044,"z":0.225},{"v":-1.51,"x":0.03,"z":0.322},{"v":-1.51,"x":0.022,"z":0.45},{"v":-1.51,"x":0,"z":0.46},{"v":-1.51,"x":0,"z":0.56},{"v":-1.51,"x":0.022,"z":0.575},{"v":-1.51,"x":0.024,"z":0.7},{"v":-1.51,"x":0.021,"z":0.79},{"v":-1.51,"x":0,"z":0.875},
{"v":-1.7,"x":-0.012,"z":0.88},{"v":-1.7,"x":-0.05,"z":0.92},{"v":-1.7,"x":-0.15,"z":0.975},{"v":-1.7,"x":-0.309,"z":0.978},{"v":-1.7,"x":-0.445,"z":0.96},{"v":-1.7,"x":-0.476,"z":0.87},{"v":-1.7,"x":-0.508,"z":0.795},{"v":-1.7,"x":-0.552,"z":0.717},{"v":-1.7,"x":-0.678,"z":0.6},{"v":-1.7,"x":-0.706,"z":0.505},{"v":-1.7,"x":-0.699,"z":0.39},{"v":-1.7,"x":-0.587,"z":0.28},{"v":-1.7,"x":-0.531,"z":0.237},{"v":-1.7,"x":-0.504,"z":0.096},{"v":-1.7,"x":-0.506,"z":0},{"v":-1.7,"x":-0.493,"z":-0.102},{"v":-1.7,"x":-0.443,"z":-0.144},{"v":-1.7,"x":-0.36,"z":-0.151},{"v":-1.7,"x":-0.276,"z":-0.133},{"v":-1.7,"x":-0.2,"z":-0.087},{"v":-1.7,"x":-0.137,"z":-0.038},{"v":-1.7,"x":-0.13,"z":0},{"v":-1.7,"x":-0.096,"z":0.08},{"v":-1.7,"x":-0.066,"z":0.153},{"v":-1.7,"x":-0.044,"z":0.225},{"v":-1.7,"x":-0.031,"z":0.322},{"v":-1.7,"x":-0.023,"z":0.45},{"v":-1.7,"x":0,"z":0.46},{"v":-1.7,"x":0,"z":0.56},{"v":-1.7,"x":-0.023,"z":0.575},{"v":-1.7,"x":-0.0245,"z":0.7},{"v":-1.7,"x":-0.022,"z":0.79},
{"v":-1.71,"x":0.012,"z":0.88},{"v":-1.71,"x":0.05,"z":0.92},{"v":-1.71,"x":0.15,"z":0.975},{"v":-1.71,"x":0.309,"z":0.978},{"v":-1.71,"x":0.445,"z":0.96},{"v":-1.71,"x":0.476,"z":0.87},{"v":-1.71,"x":0.508,"z":0.795},{"v":-1.71,"x":0.552,"z":0.717},{"v":-1.71,"x":0.678,"z":0.6},{"v":-1.71,"x":0.706,"z":0.505},{"v":-1.71,"x":0.699,"z":0.39},{"v":-1.71,"x":0.587,"z":0.28},{"v":-1.71,"x":0.531,"z":0.237},{"v":-1.71,"x":0.504,"z":0.096},{"v":-1.71,"x":0.506,"z":0},{"v":-1.71,"x":0.493,"z":-0.102},{"v":-1.71,"x":0.443,"z":-0.144},{"v":-1.71,"x":0.36,"z":-0.151},{"v":-1.71,"x":0.276,"z":-0.133},{"v":-1.71,"x":0.2,"z":-0.087},{"v":-1.71,"x":0.137,"z":-0.038},{"v":-1.71,"x":0.13,"z":0},{"v":-1.71,"x":0.096,"z":0.08},{"v":-1.71,"x":0.066,"z":0.153},{"v":-1.71,"x":0.044,"z":0.225},{"v":-1.71,"x":0.031,"z":0.322},{"v":-1.71,"x":0.023,"z":0.45},{"v":-1.71,"x":0,"z":0.46},{"v":-1.71,"x":0,"z":0.56},{"v":-1.71,"x":0.023,"z":0.575},{"v":-1.71,"x":0.0245,"z":0.7},{"v":-1.71,"x":0.022,"z":0.79},
{"v":-1.9,"x":-0.018,"z":0.87},{"v":-1.9,"x":-0.05,"z":0.915},{"v":-1.9,"x":-0.15,"z":0.974},{"v":-1.9,"x":-0.309,"z":0.976},{"v":-1.9,"x":-0.435,"z":0.96},{"v":-1.9,"x":-0.469,"z":0.87},{"v":-1.9,"x":-0.499,"z":0.795},{"v":-1.9,"x":-0.542,"z":0.717},{"v":-1.9,"x":-0.66,"z":0.6},{"v":-1.9,"x":-0.684,"z":0.505},{"v":-1.9,"x":-0.671,"z":0.39},{"v":-1.9,"x":-0.559,"z":0.28},{"v":-1.9,"x":-0.51,"z":0.237},{"v":-1.9,"x":-0.492,"z":0.096},{"v":-1.9,"x":-0.485,"z":0},{"v":-1.9,"x":-0.478,"z":-0.059},{"v":-1.9,"x":-0.43,"z":-0.116},{"v":-1.9,"x":-0.346,"z":-0.127},{"v":-1.9,"x":-0.27,"z":-0.116},{"v":-1.9,"x":-0.193,"z":-0.073},{"v":-1.9,"x":-0.134,"z":0},{"v":-1.9,"x":-0.099,"z":0.08},{"v":-1.9,"x":-0.067,"z":0.153},{"v":-1.9,"x":-0.045,"z":0.225},{"v":-1.9,"x":-0.032,"z":0.322},{"v":-1.9,"x":-0.024,"z":0.45},{"v":-1.9,"x":0,"z":0.46},{"v":-1.9,"x":0,"z":0.56},{"v":-1.9,"x":-0.024,"z":0.575},{"v":-1.9,"x":-0.025,"z":0.7},{"v":-1.9,"x":-0.023,"z":0.79},
{"v":-1.91,"x":0.018,"z":0.87},{"v":-1.91,"x":0.05,"z":0.915},{"v":-1.91,"x":0.15,"z":0.974},{"v":-1.91,"x":0.309,"z":0.976},{"v":-1.91,"x":0.435,"z":0.96},{"v":-1.91,"x":0.469,"z":0.87},{"v":-1.91,"x":0.499,"z":0.795},{"v":-1.91,"x":0.542,"z":0.717},{"v":-1.91,"x":0.66,"z":0.6},{"v":-1.91,"x":0.684,"z":0.505},{"v":-1.91,"x":0.671,"z":0.39},{"v":-1.91,"x":0.559,"z":0.28},{"v":-1.91,"x":0.51,"z":0.237},{"v":-1.91,"x":0.492,"z":0.096},{"v":-1.91,"x":0.485,"z":0},{"v":-1.91,"x":0.478,"z":-0.059},{"v":-1.91,"x":0.43,"z":-0.116},{"v":-1.91,"x":0.346,"z":-0.127},{"v":-1.91,"x":0.27,"z":-0.116},{"v":-1.91,"x":0.193,"z":-0.073},{"v":-1.91,"x":0.134,"z":0},{"v":-1.91,"x":0.099,"z":0.08},{"v":-1.91,"x":0.067,"z":0.153},{"v":-1.91,"x":0.045,"z":0.225},{"v":-1.91,"x":0.032,"z":0.322},{"v":-1.91,"x":0.024,"z":0.45},{"v":-1.91,"x":0,"z":0.46},{"v":-1.91,"x":0,"z":0.56},{"v":-1.91,"x":0.024,"z":0.575},{"v":-1.91,"x":0.025,"z":0.7},{"v":-1.91,"x":0.023,"z":0.79},
{"v":-2.1,"x":-0.1,"z":0.964},{"v":-2.1,"x":-0.239,"z":0.974},{"v":-2.1,"x":-0.378,"z":0.96},{"v":-2.1,"x":-0.448,"z":0.915},{"v":-2.1,"x":-0.476,"z":0.851},{"v":-2.1,"x":-0.504,"z":0.753},{"v":-2.1,"x":-0.601,"z":0.618},{"v":-2.1,"x":-0.664,"z":0.505},{"v":-2.1,"x":-0.65,"z":0.421},{"v":-2.1,"x":-0.601,"z":0.336},{"v":-2.1,"x":-0.545,"z":0.28},{"v":-2.1,"x":-0.497,"z":0.237},{"v":-2.1,"x":-0.49,"z":0.1},{"v":-2.1,"x":-0.45,"z":-0.003},{"v":-2.1,"x":-0.416,"z":-0.066},{"v":-2.1,"x":-0.36,"z":-0.099},{"v":-2.1,"x":-0.304,"z":-0.102},{"v":-2.1,"x":-0.235,"z":-0.08},{"v":-2.1,"x":-0.165,"z":-0.031},{"v":-2.1,"x":-0.142,"z":0},{"v":-2.1,"x":-0.104,"z":0.08},{"v":-2.1,"x":-0.07,"z":0.153},{"v":-2.1,"x":-0.046,"z":0.225},{"v":-2.1,"x":-0.032,"z":0.322},{"v":-2.1,"x":-0.025,"z":0.45},{"v":-2.1,"x":0,"z":0.46},{"v":-2.1,"x":0,"z":0.56},{"v":-2.1,"x":-0.025,"z":0.575},{"v":-2.1,"x":-0.026,"z":0.7},{"v":-2.1,"x":-0.023,"z":0.802},{"v":-2.1,"x":-0.044,"z":0.908},
{"v":-2.11,"x":0.1,"z":0.964},{"v":-2.11,"x":0.239,"z":0.974},{"v":-2.11,"x":0.378,"z":0.96},{"v":-2.11,"x":0.448,"z":0.915},{"v":-2.11,"x":0.476,"z":0.851},{"v":-2.11,"x":0.504,"z":0.753},{"v":-2.11,"x":0.601,"z":0.618},{"v":-2.11,"x":0.664,"z":0.505},{"v":-2.11,"x":0.65,"z":0.421},{"v":-2.11,"x":0.601,"z":0.336},{"v":-2.11,"x":0.545,"z":0.28},{"v":-2.11,"x":0.497,"z":0.237},{"v":-2.11,"x":0.49,"z":0.1},{"v":-2.11,"x":0.45,"z":-0.003},{"v":-2.11,"x":0.416,"z":-0.066},{"v":-2.11,"x":0.36,"z":-0.099},{"v":-2.11,"x":0.304,"z":-0.102},{"v":-2.11,"x":0.235,"z":-0.08},{"v":-2.11,"x":0.165,"z":-0.031},{"v":-2.11,"x":0.142,"z":0},{"v":-2.11,"x":0.104,"z":0.08},{"v":-2.11,"x":0.07,"z":0.153},{"v":-2.11,"x":0.046,"z":0.225},{"v":-2.11,"x":0.032,"z":0.322},{"v":-2.11,"x":0.025,"z":0.45},{"v":-2.11,"x":0,"z":0.46},{"v":-2.11,"x":0,"z":0.56},{"v":-2.11,"x":0.025,"z":0.575},{"v":-2.11,"x":0.026,"z":0.7},{"v":-2.11,"x":0.023,"z":0.802},{"v":-2.11,"x":0.044,"z":0.908}
],
"ticksMajor":[{"x":-1,"z":-0.5},{"x":-1,"z":1}],
"tr":[{"p":"u","x":0.972,"z":-0.378},{"p":"u","x":1.03,"z":-0.378},{"p":"u","x":1.0,"z":-0.251},{"p":"r","x":1.089,"z":-0.471},{"p":"r","x":1.089,"z":-0.526},{"p":"r","x":1.222,"z":-0.5}],
"ln":[{"p":"u","x":1,"z":-0.5},{"p":"u","x":1,"z":-0.3},{"p":"r","x":1,"z":-0.5},{"p":"r","x":1.15,"z":-0.5}],
"tb":[{"p":"u","x":0.972,"z":-0.368},{"p":"u","x":1.03,"z":-0.368},{"p":"u","x":1.0,"z":-0.242},{"p":"r","x":1.16,"z":-0.475},{"p":"r","x":1.16,"z":-0.525},{"p":"r","x":1.285,"z":-0.5}],
"lb":[{"p":"u","x":1,"z":-0.5},{"p":"u","x":1,"z":-0.3},{"p":"r","x":1,"z":-0.5},{"p":"r","x":1.2,"z":-0.5}],
"dash":[{"x":-0.445,"z":0},{"x":1,"z":0}],
"darr":[{"i":1,"x":0.005,"z":0.549},{"i":2,"x":0.051,"z":0.5},{"i":3,"x":0.005,"z":0.456}]
},
"vconcat":[
{"width":479,"height":355,"title":{"text":"Free surface","dx":14,"fontSize":27,"fontWeight":"bold","offset":-27,"color":"black"},
"resolve":{"axis":{"x":"independent","y":"independent"}},
"encoding":{"x":{"field":"x","type":"quantitative","scale":{"domain":[-1,1],"nice":false},"axis":null},"y":{"field":"z","type":"quantitative","scale":{"domain":[-0.5,1],"nice":false},"axis":null}},
"layer":[
{"data":{"name":"a"},"transform":[{"window":[{"op":"row_number","as":"o"}]}],"mark":{"type":"line","interpolate":"cardinal-closed","clip":true,"stroke":"transparent"},
"encoding":{"order":{"field":"o","type":"quantitative"},"detail":{"field":"v"},"fill":{"field":"v","type":"quantitative","scale":{"type":"threshold","domain":[-2,-1.8,-1.6,-1.4,-1.2,-1,-0.8,-0.6,-0.4,-0.2,0],"range":["#0000ff","#0064ff","#00b9ff","#00ffe6","#00ff8c","#00ff32","#2dff00","#8cff00","#e6ff00","#ffb900","#ff6400","#ff0000"]},
"legend":{"type":"gradient","orient":"none","direction":"vertical","legendX":483,"legendY":14,"title":null,"gradientLength":202,"gradientThickness":22,"padding":0,"labelFontSize":13.5,"labelColor":"black","labelOffset":6,"labelOverlap":false,"labelExpr":"abs(datum.value)>9?'':(datum.value==0?'\u00a00':''+datum.value)","gradientStrokeColor":"black","gradientStrokeWidth":1.5}}}},
{"data":{"values":[{"x":0.997,"x2":1.281,"z":0.999,"z2":0.051}]},"mark":{"type":"rect","fill":"white","stroke":"black","strokeWidth":1.5},"encoding":{"x2":{"field":"x2"},"y2":{"field":"z2"}}},
{"data":{"name":"ticksMajor"},"mark":{"type":"line","opacity":0},"encoding":{"x":{"field":"x","type":"quantitative","title":"x/h","axis":{"zindex":1,"orient":"bottom","values":[-1,-0.5,0,0.5,1],"tickSize":-11,"tickWidth":2,"labelExpr":"''+datum.value","labelFontSize":16.5,"labelPadding":15,"titleFontSize":26,"domainWidth":2}},"y":{"field":"z","type":"quantitative","title":"z/h","axis":{"zindex":1,"orient":"left","values":[-0.4,-0.2,0,0.2,0.4,0.6,0.8],"tickSize":-11,"tickWidth":2,"labelExpr":"''+datum.value","labelFontSize":16.5,"labelPadding":17,"titleFontSize":26,"domainWidth":2}}}},
{"data":{"name":"ticksMajor"},"mark":{"type":"line","opacity":0},"encoding":{"x":{"field":"x","type":"quantitative","axis":{"zindex":1,"orient":"bottom","values":[-0.9,-0.8,-0.7,-0.6,-0.4,-0.3,-0.2,-0.1,0.1,0.2,0.3,0.4,0.6,0.7,0.8,0.9],"tickSize":-6,"tickWidth":1.5,"labels":false,"domain":false,"title":null}},"y":{"field":"z","type":"quantitative","axis":{"zindex":1,"orient":"left","values":[-0.48,-0.44,-0.36,-0.32,-0.28,-0.24,-0.16,-0.12,-0.08,-0.04,0.04,0.08,0.12,0.16,0.24,0.28,0.32,0.36,0.44,0.48,0.52,0.56,0.64,0.68,0.72,0.76,0.84,0.88,0.92,0.96],"tickSize":-6,"tickWidth":1.5,"labels":false,"domain":false,"title":null}}}},
{"data":{"name":"dash"},"mark":{"type":"line","stroke":"black","strokeWidth":1.5,"strokeDash":[15,15]},"encoding":{}},
{"data":{"name":"darr"},"mark":{"type":"line","stroke":"#7070ff","strokeWidth":0.8},"encoding":{"order":{"field":"i","type":"quantitative"}}},
{"data":{"name":"ln"},"mark":{"type":"rule","stroke":"black","strokeWidth":1.5},"transform":[{"aggregate":[{"op":"min","field":"x","as":"x"},{"op":"max","field":"x","as":"x2"},{"op":"min","field":"z","as":"z"},{"op":"max","field":"z","as":"z2"}],"groupby":["p"]}],"encoding":{"x2":{"field":"x2"},"y2":{"field":"z2"}}},
{"data":{"name":"tr"},"transform":[{"window":[{"op":"row_number","as":"o"}]}],"mark":{"type":"line","fill":"black","stroke":"black","strokeWidth":0.5,"interpolate":"linear-closed"},"encoding":{"order":{"field":"o","type":"quantitative"},"detail":{"field":"p"}}},
{"data":{"values":[{"t":"(","x":-1.369,"z":1.12},{"t":")","x":-1.252,"z":1.12}]},"mark":{"type":"text","fontSize":26},"encoding":{"text":{"field":"t"}}},
{"data":{"values":[{"t":"a","x":-1.31,"z":1.12}]},"mark":{"type":"text","fontSize":26,"fontStyle":"italic"},"encoding":{"text":{"field":"t"}}},
{"data":{"values":[{"t":"Al film","x":-0.96,"z":0.488},{"t":"Interface","x":-0.943,"z":0},{"t":"Cu half space","x":-0.923,"z":-0.387}]},"mark":{"type":"text","fontSize":26,"fontWeight":"bold","align":"left"},"encoding":{"text":{"field":"t"}}},
{"data":{"values":[{"t":"Dislocation","x":0,"z":0.45},{"t":"o","x":0,"z":0.527}]},"mark":{"type":"text","fontSize":13.2,"fontWeight":"bold"},"encoding":{"text":{"field":"t"}}},
{"data":{"values":[{"t":"[001]","x":1.135,"z":-0.26},{"t":"[100]","x":1.172,"z":-0.578}]},"mark":{"type":"text","fontSize":19,"fontWeight":"bold"},"encoding":{"text":{"field":"t"}}}
]},
{"width":479,"height":355,"title":{"text":"Free surface","dx":20,"fontSize":27,"fontWeight":"bold","offset":-27,"color":"black"},
"resolve":{"axis":{"x":"independent","y":"independent"}},
"encoding":{"x":{"field":"x","type":"quantitative","scale":{"domain":[-1,1],"nice":false},"axis":null},"y":{"field":"z","type":"quantitative","scale":{"domain":[-0.5,1],"nice":false},"axis":null}},
"layer":[
{"data":{"name":"b"},"transform":[{"window":[{"op":"row_number","as":"o"}]}],"mark":{"type":"line","interpolate":"cardinal-closed","clip":true,"stroke":"transparent"},
"encoding":{"order":{"field":"o","type":"quantitative"},"detail":{"field":"v"},"fill":{"field":"v","type":"quantitative","scale":{"type":"threshold","domain":[-2,-1.8,-1.6,-1.4,-1.2,-1,-0.8,-0.6,-0.4,-0.2,0],"range":["#0000ff","#0064ff","#00b9ff","#00ffe6","#00ff8c","#00ff32","#2dff00","#8cff00","#e6ff00","#ffb900","#ff6400","#ff0000"]},
"legend":{"type":"gradient","orient":"none","direction":"vertical","legendX":483,"legendY":12,"title":null,"gradientLength":203,"gradientThickness":22,"padding":0,"labelFontSize":13.5,"labelColor":"black","labelOffset":6,"labelOverlap":false,"labelExpr":"abs(datum.value)>9?'':(datum.value==0?'\u00a00':''+datum.value)"}}}},
{"data":{"values":[{"x":0.997,"x2":1.281,"z":0.997,"z2":0.054}]},"mark":{"type":"rect","fill":"white","stroke":"black","strokeWidth":1.5},"encoding":{"x2":{"field":"x2"},"y2":{"field":"z2"}}},
{"data":{"name":"ticksMajor"},"mark":{"type":"line","opacity":0},"encoding":{"x":{"field":"x","type":"quantitative","title":"x/h","axis":{"zindex":1,"orient":"bottom","values":[-1,-0.5,0,0.5,1],"tickSize":-11,"tickWidth":2,"labelExpr":"''+datum.value","labelFontSize":16.5,"labelPadding":15,"titleFontSize":26,"domainWidth":2}},"y":{"field":"z","type":"quantitative","title":"z/h","axis":{"zindex":1,"orient":"left","values":[-0.4,-0.2,0,0.2,0.4,0.6,0.8,1],"tickSize":-11,"tickWidth":2,"labelExpr":"''+datum.value","labelFontSize":16.5,"labelPadding":17,"titleFontSize":26,"domainWidth":2}}}},
{"data":{"name":"ticksMajor"},"mark":{"type":"line","opacity":0},"encoding":{"x":{"field":"x","type":"quantitative","axis":{"zindex":1,"orient":"bottom","values":[-0.9,-0.8,-0.7,-0.6,-0.4,-0.3,-0.2,-0.1,0.1,0.2,0.3,0.4,0.6,0.7,0.8,0.9],"tickSize":-6,"tickWidth":1.5,"labels":false,"domain":false,"title":null}},"y":{"field":"z","type":"quantitative","axis":{"zindex":1,"orient":"left","values":[-0.48,-0.44,-0.36,-0.32,-0.28,-0.24,-0.16,-0.12,-0.08,-0.04,0.04,0.08,0.12,0.16,0.24,0.28,0.32,0.36,0.44,0.48,0.52,0.56,0.64,0.68,0.72,0.76,0.84,0.88,0.92,0.96],"tickSize":-6,"tickWidth":1.5,"labels":false,"domain":false,"title":null}}}},
{"data":{"name":"dash"},"mark":{"type":"line","stroke":"black","strokeWidth":1.5,"strokeDash":[15,15]},"encoding":{}},
{"data":{"name":"darr"},"mark":{"type":"line","stroke":"#7070ff","strokeWidth":0.8},"encoding":{"order":{"field":"i","type":"quantitative"}}},
{"data":{"name":"lb"},"mark":{"type":"rule","stroke":"black","strokeWidth":1.5},"transform":[{"aggregate":[{"op":"min","field":"x","as":"x"},{"op":"max","field":"x","as":"x2"},{"op":"min","field":"z","as":"z"},{"op":"max","field":"z","as":"z2"}],"groupby":["p"]}],"encoding":{"x2":{"field":"x2"},"y2":{"field":"z2"}}},
{"data":{"name":"tb"},"transform":[{"window":[{"op":"row_number","as":"o"}]}],"mark":{"type":"line","fill":"black","stroke":"black","strokeWidth":0.5,"interpolate":"linear-closed"},"encoding":{"order":{"field":"o","type":"quantitative"},"detail":{"field":"p"}}},
{"data":{"values":[{"t":"(","x":-1.369,"z":1.136},{"t":")","x":-1.252,"z":1.136}]},"mark":{"type":"text","fontSize":26},"encoding":{"text":{"field":"t"}}},
{"data":{"values":[{"t":"b","x":-1.31,"z":1.136}]},"mark":{"type":"text","fontSize":26,"fontStyle":"italic"},"encoding":{"text":{"field":"t"}}},
{"data":{"values":[{"t":"Ni film","x":-0.92,"z":0.75},{"t":"Interface","x":-0.935,"z":0},{"t":"Cu half space","x":-0.81,"z":-0.352}]},"mark":{"type":"text","fontSize":26,"fontWeight":"bold","align":"left"},"encoding":{"text":{"field":"t"}}},
{"data":{"values":[{"t":"Dislocation","x":0.21,"z":0.496},{"t":"o","x":0,"z":0.515}]},"mark":{"type":"text","fontSize":13.2,"fontWeight":"bold"},"encoding":{"text":{"field":"t"}}},
{"data":{"values":[{"t":"[001]","x":1.135,"z":-0.284},{"t":"[100]","x":1.19,"z":-0.572}]},"mark":{"type":"text","fontSize":19,"fontWeight":"bold"},"encoding":{"text":{"field":"t"}}}
]}
]}
